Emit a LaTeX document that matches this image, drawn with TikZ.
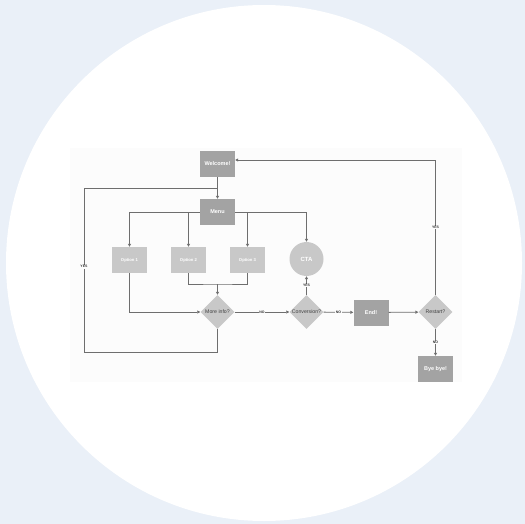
\documentclass[tikz,border=0pt]{standalone}
\usepackage{fontspec}
\setmainfont{Liberation Sans}
\usetikzlibrary{shapes.geometric,arrows.meta,calc}
\definecolor{bgblue}{HTML}{EAF0F8}
\definecolor{darkbox}{HTML}{A3A3A3}
\definecolor{lightbox}{HTML}{C8C8C8}
\definecolor{linecol}{HTML}{6E6E6E}
\definecolor{panel}{HTML}{FCFCFC}
\tikzset{
  darkstep/.style={rectangle, fill=darkbox, text=white, font=\bfseries\fontsize{5.5}{6}\selectfont, minimum width=35pt, minimum height=26pt, inner sep=0pt},
  lightstep/.style={rectangle, fill=lightbox, text=white, font=\bfseries\fontsize{4.2}{5}\selectfont, minimum width=35pt, minimum height=26pt, inner sep=0pt},
  ctanode/.style={circle, fill=lightbox, text=white, font=\bfseries\fontsize{6}{7}\selectfont, minimum size=34pt, inner sep=0pt},
  decide/.style={diamond, aspect=1, fill=lightbox, text=black!75, font=\fontsize{5.2}{6}\selectfont, minimum width=34pt, minimum height=34pt, inner sep=0pt},
  conn/.style={draw=linecol, line width=0.8pt, -{Triangle[length=3pt,width=3pt]}},
  plain/.style={draw=linecol, line width=0.8pt},
  lbl/.style={fill=panel, text=black!80, font=\bfseries\fontsize{3.5}{4}\selectfont, inner sep=0.6pt}
}
\begin{document}
\begin{tikzpicture}[x=1pt,y=-1pt]
\useasboundingbox (0,0) rectangle (525,524);
\fill[bgblue] (0,0) rectangle (525,524);
\fill[white] (264,263) circle (258);
\fill[panel] (70,148) rectangle (462,382);

\node[darkstep] (welcome) at (217.5,164) {Welcome!};
\node[darkstep] (menu) at (217.5,212) {Menu};
\node[lightstep] (opt1) at (129.5,260) {Option 1};
\node[lightstep] (opt2) at (188.5,260) {Option 2};
\node[lightstep] (opt3) at (247.5,260) {Option 3};
\node[ctanode] (cta) at (306.5,259) {CTA};
\node[decide] (moreinfo) at (217.5,312) {More info?};
\node[decide] (conv) at (306.5,312) {Conversion?};
\node[darkstep] (endn) at (371,312.5) {End!};
\node[decide] (restart) at (435.5,312) {Restart?};
\node[darkstep] (bye) at (435.5,369) {Bye bye!};

\coordinate (lb) at (84,352);
\coordinate (lt) at (84,188);
\coordinate (join) at (217.5,284);

\draw[conn] (welcome) -- (menu);
\draw[plain] (moreinfo.south) |- (lb) -- node[lbl,pos=0.52]{YES} (lt) -- (lt -| menu);
\draw[conn] (menu.west) -| (opt1);
\draw[conn] (menu.west -| opt2) -- (opt2);
\draw[conn] (menu.east) -| (cta);
\draw[conn] (menu.east -| opt3) -- (opt3);
\draw[conn] (opt1) |- (moreinfo);
\draw[plain] (opt2.south) |- (join) -| (opt3.south);
\draw[conn] (join) -- (moreinfo.north);
\draw[conn] (moreinfo) -- node[lbl]{NO} (conv);
\draw[conn] (conv) -- node[lbl]{YES} (cta);
\draw[conn] (conv) -- node[lbl]{NO} (endn);
\draw[conn] (endn) -- (restart);
\draw[conn] (restart.north) |- node[lbl,pos=0.25]{YES} ($(welcome.east)+(0,-4)$);
\draw[conn] (restart) -- node[lbl]{NO} (bye);
\end{tikzpicture}
\end{document}
